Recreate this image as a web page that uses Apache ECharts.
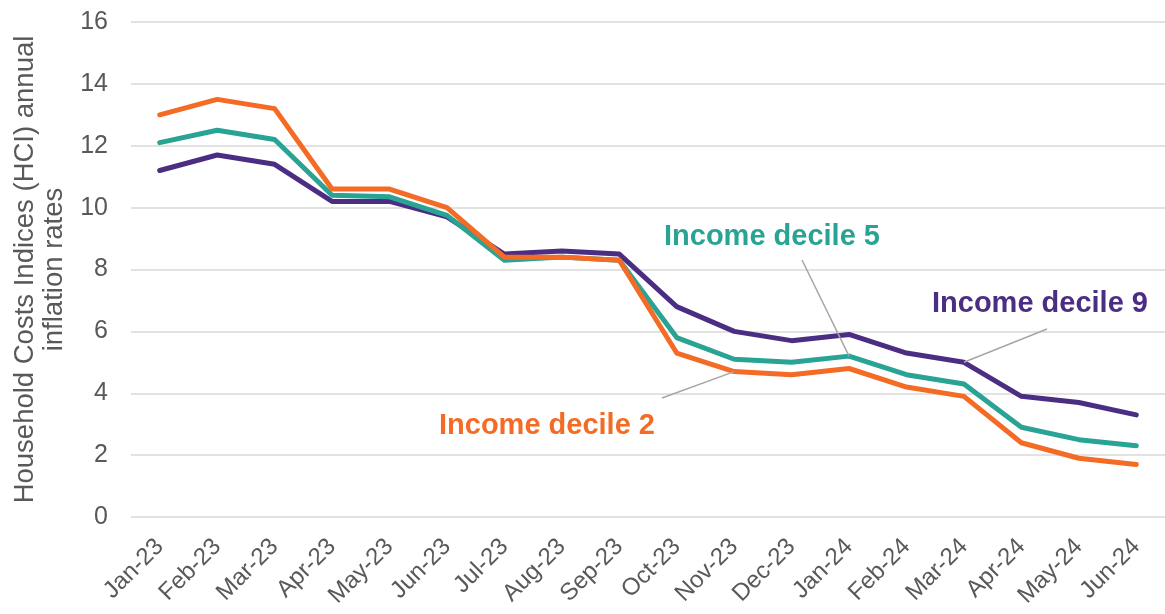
<!DOCTYPE html>
<html>
<head>
<meta charset="utf-8">
<title>HCI annual inflation rates by income decile</title>
<script src="https://cdn.jsdelivr.net/npm/echarts@6/dist/echarts.min.js"></script>
<style>
  html, body { margin: 0; padding: 0; background: #fff; }
  #chart { width: 1165px; height: 614px; }
</style>
</head>
<body>
<div id="chart"></div>
<script>
const months = ['Jan-23', 'Feb-23', 'Mar-23', 'Apr-23', 'May-23', 'Jun-23', 'Jul-23', 'Aug-23', 'Sep-23',
  'Oct-23', 'Nov-23', 'Dec-23', 'Jan-24', 'Feb-24', 'Mar-24', 'Apr-24', 'May-24', 'Jun-24']

const decile2 = [13.0, 13.5, 13.2, 10.6, 10.6, 10.0, 8.4, 8.4, 8.3, 5.3, 4.7, 4.6, 4.8, 4.2, 3.9, 2.4, 1.9, 1.7]
const decile5 = [12.1, 12.5, 12.2, 10.4, 10.35, 9.75, 8.3, 8.4, 8.3, 5.8, 5.1, 5.0, 5.2, 4.6, 4.3, 2.9, 2.5, 2.3]
const decile9 = [11.2, 11.7, 11.4, 10.2, 10.2, 9.7, 8.5, 8.6, 8.5, 6.8, 6.0, 5.7, 5.9, 5.3, 5.0, 3.9, 3.7, 3.3]

const yTicks = [0, 2, 4, 6, 8, 10, 12, 14, 16]

const colors = {
  d2: '#F36B24',
  d5: '#29A393',
  d9: '#4B2D83',
}

const font = '"Liberation Sans", Arial, sans-serif'

const chart = echarts.init(document.getElementById('chart'))

const lineSeries = (name, data, color) => ({
  name,
  type: 'line',
  data,
  symbol: 'none',
  smooth: false,
  lineStyle: { color, width: 5, cap: 'round', join: 'round' },
  itemStyle: { color },
  z: 3,
})

chart.setOption({
  animation: false,
  grid: {
    left: 131,
    right: -7,
    top: 22,
    bottom: 97,
    containLabel: false,
  },
  xAxis: {
    type: 'category',
    data: months,
    boundaryGap: true,
    axisLine: { show: false },
    axisTick: { show: false },
    axisLabel: {
      color: '#595959',
      fontFamily: font,
      fontSize: 24,
      rotate: 45,
      interval: 0,
      margin: 26,
    },
  },
  yAxis: {
    type: 'value',
    min: yTicks[0],
    max: yTicks[yTicks.length - 1],
    interval: 2,
    name: 'Household Costs Indices (HCI) annual\ninflation rates',
    nameLocation: 'middle',
    nameGap: 60,
    nameTextStyle: {
      color: '#595959',
      fontFamily: font,
      fontSize: 27.5,
      lineHeight: 29,
    },
    axisLine: { show: false },
    axisTick: { show: false },
    axisLabel: {
      color: '#595959',
      fontFamily: font,
      fontSize: 25,
      margin: 23,
    },
    splitLine: {
      lineStyle: { color: '#d9d9d9', width: 1.5 },
    },
  },
  series: [
    lineSeries('Income decile 9', decile9, colors.d9),
    lineSeries('Income decile 5', decile5, colors.d5),
    lineSeries('Income decile 2', decile2, colors.d2),
  ],
})

// annotation labels with leader lines pointing at a data point
const annotations = [
  { text: 'Income decile 5', color: colors.d5, x: 772, y: 237, from: [802, 260], month: 'Jan-24', data: decile5 },
  { text: 'Income decile 9', color: colors.d9, x: 1040, y: 304, from: [1047, 329], month: 'Mar-24', data: decile9 },
  { text: 'Income decile 2', color: colors.d2, x: 547, y: 426, from: [662, 398], month: 'Nov-23', data: decile2 },
]

const graphics = []
annotations.forEach((a) => {
  const idx = months.indexOf(a.month)
  const pt = chart.convertToPixel({ gridIndex: 0 }, [idx, a.data[idx]])
  graphics.push({
    type: 'line',
    shape: { x1: a.from[0], y1: a.from[1], x2: pt[0], y2: pt[1] },
    style: { stroke: '#a6a6a6', lineWidth: 1.5 },
    z: 10,
  })
  graphics.push({
    type: 'text',
    x: a.x,
    y: a.y,
    style: {
      text: a.text,
      fill: a.color,
      font: `bold 29px ${font}`,
      align: 'center',
      verticalAlign: 'middle',
    },
    z: 10,
  })
})

chart.setOption({ graphic: graphics })
</script>
</body>
</html>
